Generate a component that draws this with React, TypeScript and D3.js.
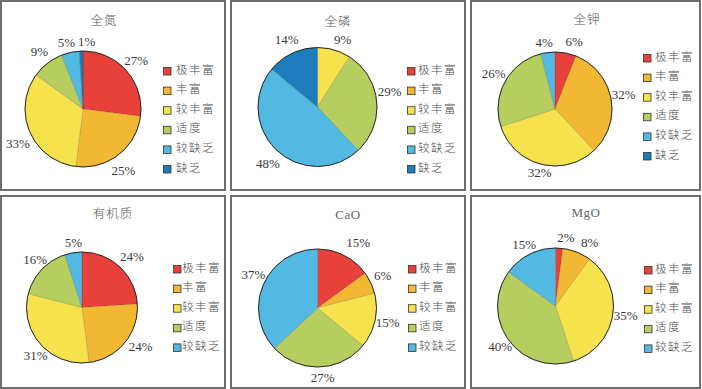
import React from "react";
import * as d3 from "d3";

// soil nutrient grade shares (%)
const levels = ["极丰富", "丰富", "较丰富", "适度", "较缺乏", "缺乏"];
const levelColors = ["#e8403b", "#f3b833", "#f5e24c", "#b6cd5f", "#52b9e2", "#1d7cbc"];

const titles = ["全氮", "全磷", "全钾", "有机质", "CaO", "MgO"];
const nitrogen = [27, 25, 33, 9, 5, 1];
const phosphorus = [0, 0, 9, 29, 48, 14];
const potassium = [6, 32, 32, 26, 4, 0];
const organic = [24, 24, 31, 16, 5];
const cao = [15, 6, 15, 27, 37];
const mgo = [2, 8, 35, 40, 15];

const series = [nitrogen, phosphorus, potassium, organic, cao, mgo];

// panel layout (box, pie centre/radius, legend, title, label nudges like excel's best fit)
const layout = [
  { x0: 1, x1: 225, y0: 1, y1: 190, cx: 83, cy: 109, r: 58, lx: 167, ly: 71, gap: 9, tx: 104, ty: 22,
    nudge: { 1: [-3, 7], 2: [0, 8], 4: [-1, 4], 5: [6, 5] } },
  { x0: 231, x1: 465, y0: 1, y1: 190, cx: 317.5, cy: 107, r: 59.5, lx: 411, ly: 71, gap: 7, tx: 338, ty: 23,
    nudge: { 2: [5, 4], 3: [0, -7], 4: [0, 5] } },
  { x0: 471, x1: 700, y0: 1, y1: 190, cx: 555, cy: 109, r: 57, lx: 647, ly: 58, gap: 8, tx: 587, ty: 21,
    nudge: { 0: [6, 3], 2: [2, -3], 4: [-2, 4] } },
  { x0: 1, x1: 225, y0: 196, y1: 388, cx: 82, cy: 307.5, r: 55.5, lx: 177, ly: 269, gap: 5, tx: 113, ty: 215,
    nudge: { 0: [3, 0], 1: [6, -3], 2: [5, 4], 3: [3, 0], 4: [2, 4] } },
  { x0: 231, x1: 465, y0: 196, y1: 388, cx: 317.5, cy: 308, r: 59, lx: 412, ly: 269, gap: 7, tx: 348, ty: 216,
    nudge: { 0: [8, 0], 3: [3, -1], 4: [2, -3] } },
  { x0: 471, x1: 700, y0: 196, y1: 388, cx: 555.5, cy: 306, r: 58, lx: 648, ly: 270, gap: 7, tx: 586, ty: 214,
    nudge: { 0: [6, 4], 1: [8, 4], 3: [2, 0], 4: [1, 3] } },
];

const font = "'Liberation Serif', 'Noto Sans CJK SC', serif";

const Panel = ({ values, title, p }) => {
  const pie = d3.pie<number>().sort(null).value((d) => d);
  const arcs = pie(values);
  const arc = d3.arc<d3.PieArcDatum<number>>().innerRadius(0).outerRadius(p.r);
  const labelArc = d3
    .arc<d3.PieArcDatum<number>>()
    .innerRadius(p.r + 13)
    .outerRadius(p.r + 13);
  const rowY = d3.scaleLinear().domain([0, 1]).range([p.ly, p.ly + 19.6]);
  const latin = /^[A-Za-z]/.test(title);

  return (
    <g>
      <rect
        x={p.x0}
        y={p.y0}
        width={p.x1 - p.x0}
        height={p.y1 - p.y0}
        fill="#fff"
        stroke="#6e6e6e"
        strokeWidth={2}
      />
      <text
        x={p.tx}
        y={p.ty}
        textAnchor="middle"
        dominantBaseline="middle"
        fontSize={latin ? 13 : 12.5}
        letterSpacing={latin ? 0.5 : 1}
        fill={latin ? "#666" : "#555"}
        fontWeight={latin ? 400 : 300}
        fontFamily={font}
      >
        {title}
      </text>
      <g transform={`translate(${p.cx},${p.cy})`}>
        {arcs.map((a, i) =>
          a.value > 0 ? (
            <path key={i} d={arc(a)} fill={levelColors[i]} stroke="rgba(0,0,0,0.25)" strokeWidth={0.5} />
          ) : null
        )}
        <circle r={p.r} fill="none" stroke="#2a2a2a" strokeWidth={1} />
        {arcs.map((a, i) => {
          if (a.value <= 0) return null;
          const [x, y] = labelArc.centroid(a);
          const [dx, dy] = p.nudge[i] || [0, 0];
          return (
            <text
              key={i}
              x={x + dx}
              y={y + dy}
              textAnchor="middle"
              dominantBaseline="middle"
              fontSize={13}
              fill="#3a3a3a"
              fontFamily={font}
            >
              {a.value}%
            </text>
          );
        })}
      </g>
      {values.map((v, i) => (
        <g key={i} transform={`translate(${p.lx},${rowY(i)})`}>
          <rect x={-3.5} y={-3.5} width={7.5} height={7.5} fill={levelColors[i]} stroke="#333" strokeWidth={0.8} />
          <text
            x={p.gap}
            y={0}
            dominantBaseline="middle"
            fontSize={11.5}
            letterSpacing={1.5}
            fill="#4a4a4a"
            fontWeight={300}
            fontFamily={font}
          >
            {levels[i]}
          </text>
        </g>
      ))}
    </g>
  );
};

export default function App() {
  return (
    <svg
      width={702}
      height={389}
      style={{ position: "absolute", left: 0, top: 0, background: "#fff" }}
    >
      <rect width={702} height={389} fill="#fff" />
      {series.map((values, i) => (
        <Panel key={i} values={values} title={titles[i]} p={layout[i]} />
      ))}
    </svg>
  );
}
